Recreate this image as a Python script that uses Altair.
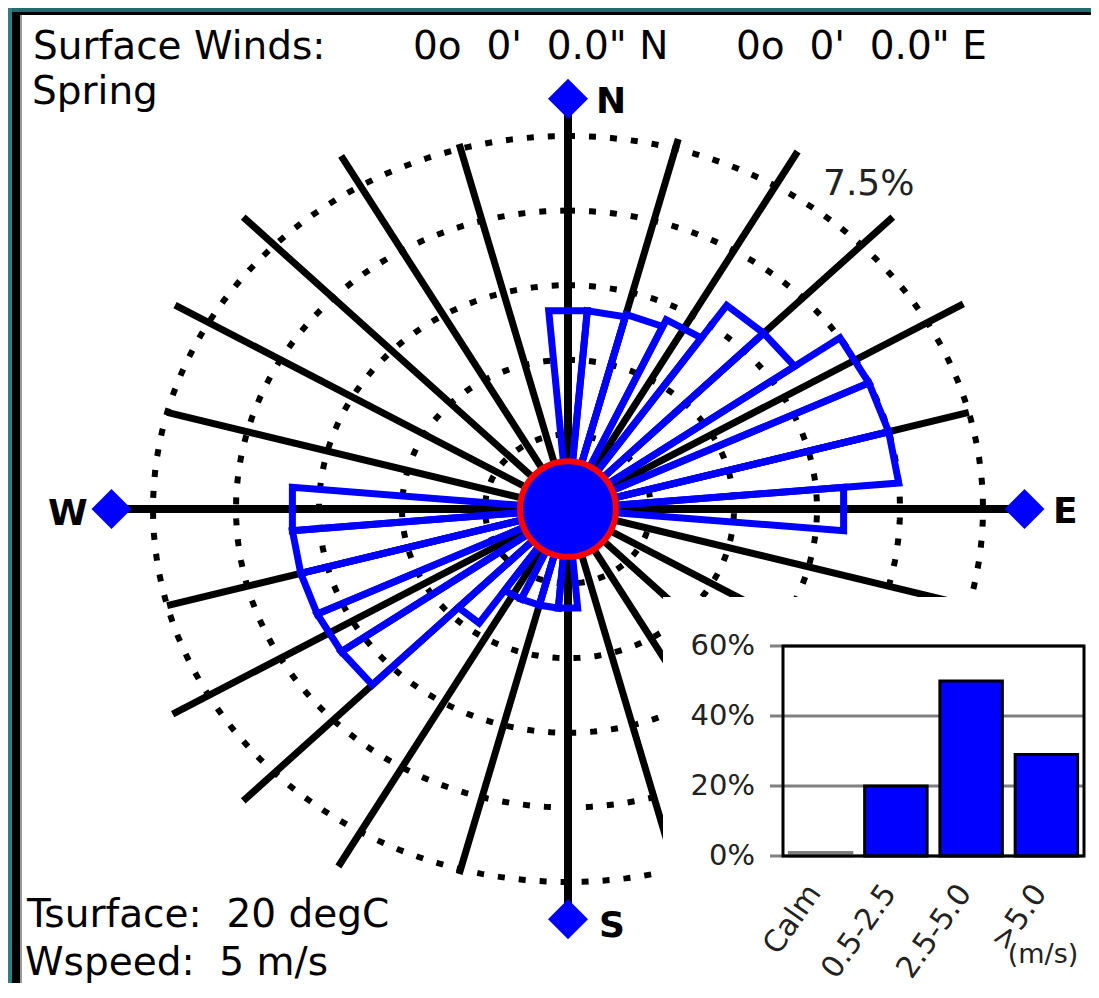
import altair as alt
import pandas as pd

# ---------------- data ----------------
wedge_dirs = list(range(0, 360, 10))
wedge_pct = [4.0, 4.0, 4.05, 4.2, 5.0, 5.0, 6.0, 6.0, 6.0, 5.0,
             0.5, 0.5, 0.5, 0.5, 0.5, 0.5, 0.5, 0.5,
             2.0, 2.0, 2.0, 2.0, 2.8, 5.0, 5.0, 5.0, 5.0, 5.0,
             0.5, 0.5, 0.5, 0.5, 0.5, 0.5, 0.5, 0.5]
wedge_half_width = 5

spoke_dirs = [15, 30, 45, 60, 75, 105, 120, 135, 150, 165,
              195, 210, 225, 240, 255, 285, 300, 315, 330, 345]
spoke_len = [7.7, 8.3, 8.3, 8.25, 7.5, 7.5, 8.25, 8.3, 8.25, 7.5,
             7.6, 8.3, 8.3, 8.25, 7.5, 7.5, 8.2, 8.3, 8.2, 7.6]

axis_dirs = [0, 90, 180, 270]
axis_names = ["N", "E", "S", "W"]
axis_len = 8.25

ring_pct = [1.5, 3.0, 4.5, 6.0, 7.5]
calm_xy = [0.0]

speed_bins = ["Calm", "0.5-2.5", "2.5-5.0", ">5.0"]
speed_share = [1, 20, 50, 29]
share_ticks = [0, 20, 40, 60]

# ---------------- layout constants ----------------
W, H = 1083, 975
CX, CY = 560, 501            # rose centre (px)
PXX, PXY = 83 / 1.5, 74.6 / 1.5   # px per percent
xdom = [-CX / PXX, (W - CX) / PXX]
ydom = [-(H - CY) / PXY, CY / PXY]
FONT = "DejaVu Sans"


def xs():
    return alt.X("x:Q", scale=alt.Scale(domain=xdom, nice=False, zero=False), axis=None)


def ys():
    return alt.Y("y:Q", scale=alt.Scale(domain=ydom, nice=False, zero=False), axis=None)


polar = dict(x="datum.r * sin(datum.a * PI / 180)", y="datum.r * cos(datum.a * PI / 180)")

# wedge outlines
wrows = []
for i, (d, r) in enumerate(zip(wedge_dirs, wedge_pct)):
    for k, (a, rr) in enumerate([(d, 0), (d - wedge_half_width, r), (d + wedge_half_width, r), (d, 0)]):
        wrows.append({"id": i, "k": k, "a": a, "r": rr})
wedges_df = pd.DataFrame(wrows)

srows = []
for i, (d, L) in enumerate(zip(spoke_dirs, spoke_len)):
    srows += [{"id": i, "k": 0, "a": d, "r": 0}, {"id": i, "k": 1, "a": d, "r": L}]
spokes_df = pd.DataFrame(srows)

arows = []
for i, d in enumerate(axis_dirs):
    arows += [{"id": i, "k": 0, "a": d, "r": 0}, {"id": i, "k": 1, "a": d, "r": axis_len}]
axes_df = pd.DataFrame(arows)

rrows = []
for r in ring_pct:
    for a in range(0, 362, 2):
        rrows.append({"id": r, "k": a, "a": a, "r": r})
rings_df = pd.DataFrame(rrows)

ends_df = pd.DataFrame({"a": axis_dirs, "r": [axis_len] * 4, "name": axis_names})

rings = alt.Chart(rings_df).transform_calculate(**polar).mark_line(
    color="black", strokeWidth=6, strokeDash=[7, 14], strokeCap="butt"
).encode(x=xs(), y=ys(), order="k:Q", detail="id:N")

spokes = alt.Chart(spokes_df).transform_calculate(**polar).mark_line(
    color="black", strokeWidth=7, strokeCap="butt"
).encode(x=xs(), y=ys(), order="k:Q", detail="id:N")

axes_lines = alt.Chart(axes_df).transform_calculate(**polar).mark_line(
    color="black", strokeWidth=8, strokeCap="butt"
).encode(x=xs(), y=ys(), order="k:Q", detail="id:N")

wedges = alt.Chart(wedges_df).transform_calculate(**polar).mark_line(
    color="#0000ff", strokeWidth=7, strokeJoin="miter"
).encode(x=xs(), y=ys(), order="k:Q", detail="id:N")

calm = alt.Chart(pd.DataFrame({"x": calm_xy, "y": calm_xy})).mark_circle(
    size=9161, color="#0000ff", stroke="#ff0000", strokeWidth=6, opacity=1
).encode(x=xs(), y=ys())

diamonds = alt.Chart(ends_df).transform_calculate(**polar).mark_point(
    shape="diamond", size=1600, filled=True, color="#0000ff", opacity=1
).encode(x=xs(), y=ys())

rose = alt.layer(rings, spokes, axes_lines, wedges, calm, diamonds)

# ---------------- inset bar chart ----------------
inset_x = alt.Scale(domain=speed_bins, range=[775, 1076], paddingInner=0.17, paddingOuter=0.085)
inset_y = alt.Scale(domain=[0, 60], range=[848, 638], nice=False, zero=True)

bars_df = pd.DataFrame({"cat": speed_bins, "v": speed_share})
ticks_df = pd.DataFrame({"t": share_ticks, "lab": [f"{t}%" for t in share_ticks]})
frame_df = pd.DataFrame({"top": [max(share_ticks)], "bottom": [min(share_ticks)]})

inset_bg = alt.Chart(pd.DataFrame({"a": [0]})).mark_rect(color="white").encode(
    x=alt.value(655), x2=alt.value(1083), y=alt.value(589), y2=alt.value(975))

grid = alt.Chart(ticks_df).mark_rule(color="#808080", strokeWidth=3).encode(
    y=alt.Y("t:Q", scale=inset_y, axis=None), x=alt.value(762), x2=alt.value(1076))

bars = alt.Chart(bars_df).mark_bar(color="#0000ff", strokeWidth=3).encode(
    x=alt.X("cat:N", sort=speed_bins, scale=inset_x, axis=None),
    y=alt.Y("v:Q", scale=inset_y, axis=None),
    stroke=alt.condition(alt.datum.v < 2, alt.value("#808080"), alt.value("black")),
    fill=alt.condition(alt.datum.v < 2, alt.value("#808080"), alt.value("#0000ff")))

frame = alt.Chart(frame_df).mark_rect(filled=False, stroke="black", strokeWidth=3).encode(
    y=alt.Y("top:Q", scale=inset_y, axis=None), y2="bottom:Q",
    x=alt.value(775), x2=alt.value(1076))

ylabels = alt.Chart(ticks_df).mark_text(
    align="right", baseline="middle", fontSize=29, font=FONT, color="#222"
).encode(y=alt.Y("t:Q", scale=inset_y, axis=None), x=alt.value(747), text="lab:N")

xlabels = alt.Chart(bars_df).mark_text(
    angle=305, align="right", baseline="middle", fontSize=30, font=FONT, color="#222", xOffset=-6
).encode(x=alt.X("cat:N", sort=speed_bins, scale=inset_x, axis=None), y=alt.value(880), text="cat:N")

inset = alt.layer(inset_bg, grid, bars, frame, ylabels, xlabels)


# ---------------- texts & border ----------------
def txt(s, x, y, size=39, weight="normal", align="left", color="black"):
    return alt.Chart(pd.DataFrame({"s": [s]})).mark_text(
        align=align, baseline="alphabetic", fontSize=size, font=FONT, fontWeight=weight, color=color
    ).encode(text="s:N", x=alt.value(x), y=alt.value(y))


def band(x, x2, y, y2, color):
    return alt.Chart(pd.DataFrame({"a": [0]})).mark_rect(color=color).encode(
        x=alt.value(x), x2=alt.value(x2), y=alt.value(y), y2=alt.value(y2))


borders = [
    band(0, W, 0, 4, "#226c70"),
    band(0, 4, 0, H, "#2f7f82"),
    band(4, W, 4, 7, "black"),
    band(4, 12, 4, H, "black"),
    band(12, 14, 7, H, "#9a9a9a"),
]

texts = [
    txt("Surface Winds:", 25, 51),
    txt('0o\u00a0\u00a00\'\u00a0\u00a00.0" N', 405, 51),
    txt('0o\u00a0\u00a00\'\u00a0\u00a00.0" E', 728, 51),
    txt("Spring", 24, 96),
    txt("7.5%", 815, 187, size=36, color="#222"),
    txt("Tsurface:\u00a0\u00a020 degC", 19, 919),
    txt("Wspeed:\u00a0\u00a05 m/s", 17, 967),
    txt("N", 588, 105, size=36, weight="bold"),
    txt("E", 1045, 515, size=36, weight="bold"),
    txt("S", 591, 929, size=36, weight="bold"),
    txt("W", 40, 517, size=36, weight="bold"),
    txt("(m/s)", 1035, 955, size=27, align="center", color="#222"),
]

chart = alt.layer(*borders, rose, inset, *texts).resolve_scale(
    x="independent", y="independent"
).properties(
    width=W, height=H, padding=0, autosize=alt.AutoSizeParams(type="none"), background="white"
).configure_view(stroke=None)

chart.save("out.html", embed_options={"renderer": "svg", "actions": False})
